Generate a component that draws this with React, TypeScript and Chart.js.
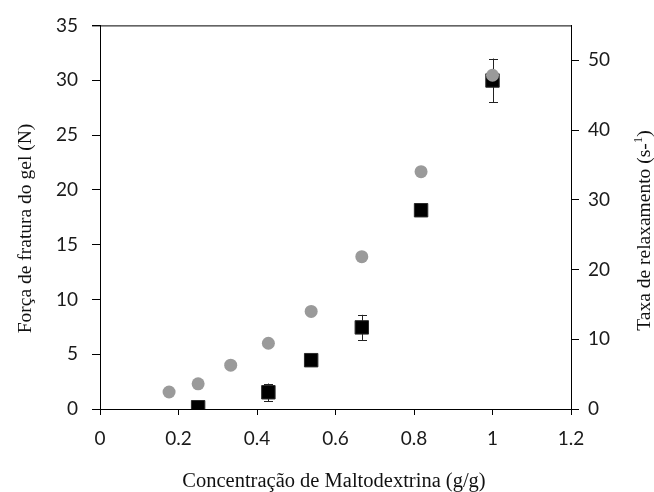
import React, { useEffect, useRef } from "react";
import { Chart, registerables } from "chart.js";

Chart.register(...registerables);

// Data
const concForca = [0.176, 0.25, 0.333, 0.429, 0.538, 0.667, 0.818, 1.0];
const forcaFratura = [1.55, 2.3, 4.0, 6.0, 8.9, 13.9, 21.65, 30.45];
const concTaxa = [0.25, 0.429, 0.538, 0.667, 0.818, 1.0];
const taxaRelax = [0.25, 2.4, 7.0, 11.7, 28.5, 47.1];
const taxaErro = [0, 1.25, 0, 1.8, 0, 3.15];

const xTitle = "Concentração de Maltodextrina (g/g)";
const yTitle = "Força de fratura do gel (N)";
const y1TitleMain = "Taxa de relaxamento (s-";
const y1TitleSup = "1";
const y1TitleEnd = ")";

const W = 654;
const H = 492;

const tickFont = { family: "Lato", size: 19 };
const tickColor = "#1a1a1a";

const boxPlugin = {
  id: "boxAndTitles",
  beforeDatasetsDraw(chart: any) {
    const { ctx } = chart;
    const x = chart.scales.x;
    const y1 = chart.scales.y1;
    ctx.save();
    ctx.strokeStyle = "#222";
    ctx.lineWidth = 1;
    for (let i = 0; i < concTaxa.length; i++) {
      const e = taxaErro[i];
      if (!e) continue;
      const px = Math.round(x.getPixelForValue(concTaxa[i])) + 0.5;
      const top = y1.getPixelForValue(taxaRelax[i] + e);
      const bot = y1.getPixelForValue(taxaRelax[i] - e);
      ctx.beginPath();
      ctx.moveTo(px, top);
      ctx.lineTo(px, bot);
      ctx.moveTo(px - 4.5, Math.round(top) + 0.5);
      ctx.lineTo(px + 4.5, Math.round(top) + 0.5);
      ctx.moveTo(px - 4.5, Math.round(bot) + 0.5);
      ctx.lineTo(px + 4.5, Math.round(bot) + 0.5);
      ctx.stroke();
    }
    ctx.restore();
  },
  afterDraw(chart: any) {
    const { ctx, chartArea } = chart;
    ctx.save();
    // top border of the plot box
    ctx.strokeStyle = "#000";
    ctx.lineWidth = 1;
    ctx.beginPath();
    ctx.moveTo(chartArea.left - 8, chartArea.top + 0.5);
    ctx.lineTo(chartArea.right, chartArea.top + 0.5);
    ctx.stroke();

    ctx.fillStyle = "#111";
    ctx.textAlign = "center";
    ctx.textBaseline = "alphabetic";

    // bottom title
    ctx.font = '20.5px "Liberation Serif"';
    ctx.fillText(xTitle, 334, 486.5);

    // left title
    ctx.save();
    ctx.translate(31, 228.5);
    ctx.rotate(-Math.PI / 2);
    ctx.font = '19.5px "Liberation Serif"';
    ctx.fillText(yTitle, 0, 0);
    ctx.restore();

    // right title with superscript
    ctx.save();
    ctx.translate(650, 230.5);
    ctx.rotate(-Math.PI / 2);
    ctx.textAlign = "left";
    const mainFont = '19.5px "Liberation Serif"';
    const supFont = '13px "Liberation Serif"';
    ctx.font = mainFont;
    const w1 = ctx.measureText(y1TitleMain).width;
    const w3 = ctx.measureText(y1TitleEnd).width;
    ctx.font = supFont;
    const w2 = ctx.measureText(y1TitleSup).width;
    let sx = -(w1 + w2 + w3) / 2;
    ctx.font = mainFont;
    ctx.fillText(y1TitleMain, sx, 0);
    sx += w1;
    ctx.font = supFont;
    ctx.fillText(y1TitleSup, sx, -8);
    sx += w2;
    ctx.font = mainFont;
    ctx.fillText(y1TitleEnd, sx, 0);
    ctx.restore();

    ctx.restore();
  },
};

export default function App() {
  const ref = useRef<HTMLCanvasElement | null>(null);

  useEffect(() => {
    if (!ref.current) return;
    const chart = new Chart(ref.current, {
      type: "scatter",
      data: {
        datasets: [
          {
            label: "Força de fratura",
            data: concForca.map((c, i) => ({ x: c, y: forcaFratura[i] })),
            yAxisID: "y",
            pointStyle: "circle",
            pointRadius: 6.5,
            pointHoverRadius: 6.5,
            backgroundColor: "#9a9a9a",
            borderColor: "#9a9a9a",
            borderWidth: 0,
          },
          {
            label: "Taxa de relaxamento",
            data: concTaxa.map((c, i) => ({ x: c, y: taxaRelax[i] })),
            yAxisID: "y1",
            pointStyle: "rect",
            pointRadius: 9.5,
            pointHoverRadius: 9.5,
            backgroundColor: "#000",
            borderColor: "#2a2a2a",
            borderWidth: 1,
          },
        ],
      },
      options: {
        responsive: false,
        animation: false,
        devicePixelRatio: 1,
        layout: { padding: { top: 22, left: 0, right: 0, bottom: 0 } },
        plugins: {
          legend: { display: false },
          tooltip: { enabled: false },
          title: { display: false },
        },
        scales: {
          x: {
            type: "linear",
            position: "bottom",
            min: 0,
            max: 1.2,
            afterFit: (s: any) => {
              s.height = 83;
            },
            ticks: {
              stepSize: 0.2,
              font: tickFont,
              color: tickColor,
              padding: 12,
              callback: (v: any) => String(Math.round(Number(v) * 10) / 10),
            },
            grid: {
              display: true,
              drawOnChartArea: false,
              drawTicks: true,
              tickLength: 6,
              color: "#000",
            },
            border: { display: true, color: "#000", width: 1 },
          },
          y: {
            type: "linear",
            position: "left",
            min: 0,
            max: 35,
            afterFit: (s: any) => {
              s.width = 100;
            },
            ticks: {
              stepSize: 5,
              font: tickFont,
              color: tickColor,
              padding: 14,
            },
            grid: {
              display: true,
              drawOnChartArea: false,
              drawTicks: true,
              tickLength: 8,
              color: "#000",
            },
            border: { display: true, color: "#000", width: 1 },
          },
          y1: {
            type: "linear",
            position: "right",
            min: 0,
            max: 55,
            afterFit: (s: any) => {
              s.width = 83;
            },
            ticks: {
              stepSize: 10,
              includeBounds: false,
              font: tickFont,
              color: tickColor,
              padding: 9,
            },
            grid: {
              display: true,
              drawOnChartArea: false,
              drawTicks: true,
              tickLength: 8,
              color: "#000",
            },
            border: { display: true, color: "#000", width: 1 },
          },
        },
      },
      plugins: [boxPlugin],
    } as any);
    return () => chart.destroy();
  }, []);

  return (
    <div
      style={{
        position: "fixed",
        left: 0,
        top: 0,
        width: W,
        height: H,
        background: "#fff",
      }}
    >
      <canvas ref={ref} width={W} height={H} style={{ width: W, height: H, display: "block" }} />
    </div>
  );
}
